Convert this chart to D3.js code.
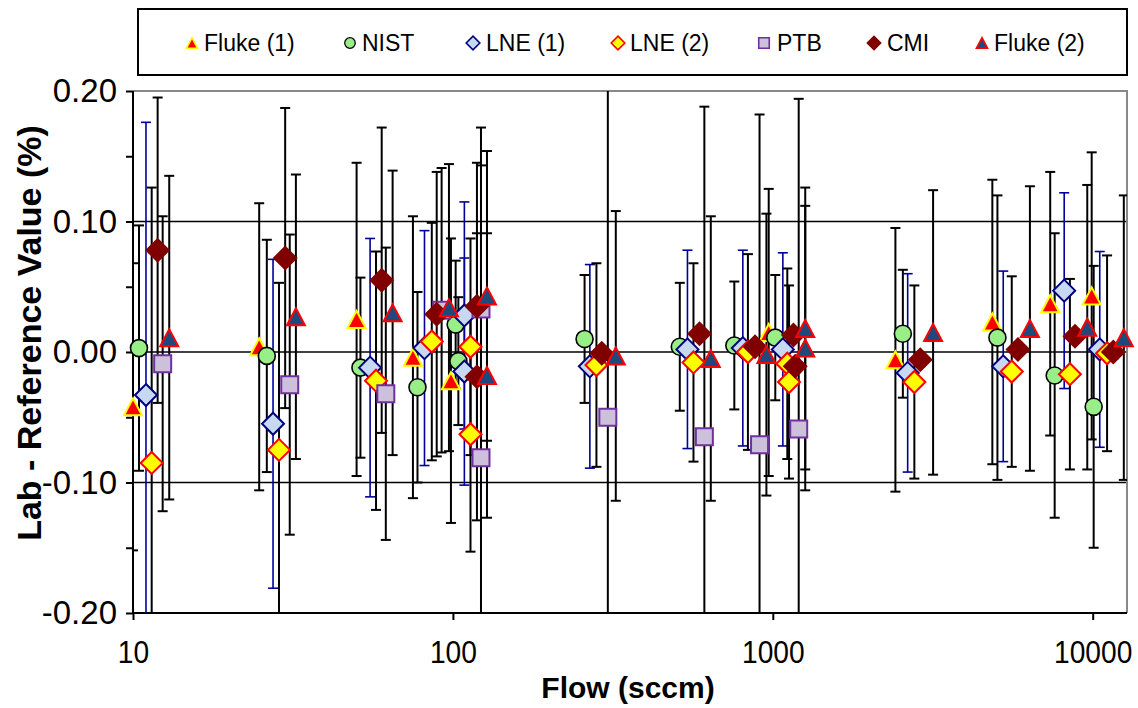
<!DOCTYPE html>
<html>
<head>
<meta charset="utf-8">
<script src="https://cdn.jsdelivr.net/npm/d3@7"></script>
<style>
  body { margin: 0; background: #fff; }
  svg { font-family: "Liberation Sans", Arial, sans-serif; }
</style>
</head>
<body>
<div id="grafico"></div>
<script>
// 1) dados -----------------------------------------------------------
const fluke1Fluxo = [10, 24.8, 50, 75, 98.6, 971, 2417, 4856, 7365, 9927];
const fluke1Desvio = [-0.042, 0.004, 0.025, -0.004, -0.022, 0.015, -0.006, 0.023, 0.037, 0.043];
const fluke1Incerteza = [0.110, 0.110, 0.120, 0.108, 0.109, 0.110, 0.101, 0.109, 0.101, 0.110];

const nistFluxo = [10.44, 26.2, 51.4, 77.5, 102, 104, 258, 512, 758, 1018, 2550, 5037, 7605, 10070];
const nistDesvio = [0.003, -0.003, -0.012, -0.027, 0.021, -0.007, 0.010, 0.004, 0.005, 0.011, 0.014, 0.011, -0.018, -0.042];
const nistIncerteza = [0.094, 0.089, 0.069, 0.073, 0.049, 0.049, 0.049, 0.049, 0.049, 0.048, 0.049, 0.109, 0.109, 0.108];

const lne1Fluxo = [10.98, 27.4, 55.1, 81.5, 108.6, 108.6, 268, 541, 806, 1075, 2640, 5252, 8145, 10520];
const lne1Desvio = [-0.033, -0.055, -0.012, 0.003, 0.028, -0.015, -0.011, 0.002, 0.003, 0.002, -0.016, -0.011, 0.047, 0.002];
const lne1Incerteza = [0.209, 0.126, 0.099, 0.090, 0.087, 0.087, 0.078, 0.076, 0.075, 0.074, 0.076, 0.073, 0.075, 0.075];

const lne2Fluxo = [11.44, 28.6, 57.5, 85.9, 113.5, 113.5, 281, 565, 836, 1110, 1124, 2770, 5584, 8486, 11090];
const lne2Desvio = [-0.085, -0.075, -0.022, 0.008, 0.004, -0.063, -0.010, -0.008, 0.000, -0.009, -0.023, -0.023, -0.015, -0.017, -0.001];
const lne2Incerteza = [0.211, 0.128, 0.099, 0.091, 0.083, 0.090, 0.078, 0.076, 0.075, 0.073, 0.074, 0.074, 0.073, 0.073, 0.075];

const ptbFluxo = [12.38, 30.9, 61.7, 92.2, 122.4, 122.4, 305, 611, 909, 1205];
const ptbDesvio = [-0.009, -0.025, -0.032, 0.032, 0.033, -0.081, -0.050, -0.065, -0.071, -0.059];
const ptbIncerteza = [0.113, 0.115, 0.112, 0.109, 0.110, 0.253, 0.260, 0.253, 0.253, 0.253];

const cmiFluxo = [11.94, 29.9, 59.9, 89.0, 118.9, 118.9, 292, 590, 880, 1160, 1175, 2890, 5838, 8805, 11600];
const cmiDesvio = [0.078, 0.072, 0.055, 0.029, 0.035, -0.019, -0.001, 0.014, 0.004, 0.013, -0.011, -0.006, 0.002, 0.012, 0.000];
const cmiIncerteza = [0.117, 0.115, 0.117, 0.109, 0.110, 0.110, 0.005, 0.005, 0.005, 0.005, 0.005, 0.005, 0.005, 0.005, 0.005];

const fluke2Fluxo = [12.98, 32.3, 64.8, 97.2, 127.8, 127.8, 323, 640, 955, 1263, 1263, 3170, 6364, 9616, 12510];
const fluke2Desvio = [0.011, 0.027, 0.030, 0.034, 0.043, -0.018, -0.003, -0.005, -0.002, 0.018, 0.003, 0.015, 0.018, 0.019, 0.011];
const fluke2Incerteza = [0.124, 0.109, 0.109, 0.110, 0.111, 0.109, 0.111, 0.109, 0.108, 0.108, 0.109, 0.109, 0.109, 0.109, 0.109];

const ticksY = [-0.2, -0.15, -0.1, -0.05, 0, 0.05, 0.1, 0.15, 0.2];
const rotulosY = [-0.2, -0.1, 0, 0.1, 0.2];
const ticksX = [10, 100, 1000, 10000];
const gradeY = [-0.1, 0, 0.1];

// 2) medidas padronizadas ---------------------------------------------
const margem = { superior: 91, inferior: 95, direita: 11, esquerda: 133 };
const larguraTotal = 1138, alturaTotal = 708;
const largura = larguraTotal - margem.esquerda - margem.direita;
const altura = alturaTotal - margem.superior - margem.inferior;

// 3) series --------------------------------------------------------------
const series = [
  { nome: "Fluke (1)", fluxo: fluke1Fluxo, desvio: fluke1Desvio, inc: fluke1Incerteza, forma: "triangulo", fill: "#FF0000", stroke: "#FFFF00", sw: 2, barra: "#000", bw: 2, lx: 192, tx: 204 },
  { nome: "NIST", fluxo: nistFluxo, desvio: nistDesvio, inc: nistIncerteza, forma: "circulo", fill: "#99EE88", stroke: "#000", sw: 1.6, barra: "#000", bw: 2, lx: 350, tx: 362 },
  { nome: "LNE (1)", fluxo: lne1Fluxo, desvio: lne1Desvio, inc: lne1Incerteza, forma: "losango", fill: "#C6D9F1", stroke: "#000080", sw: 2, barra: "#000099", bw: 1.6, lx: 473, tx: 486 },
  { nome: "LNE (2)", fluxo: lne2Fluxo, desvio: lne2Desvio, inc: lne2Incerteza, forma: "losango", fill: "#FFFF00", stroke: "#FF0000", sw: 2, barra: "#000", bw: 2, lx: 618, tx: 630 },
  { nome: "PTB", fluxo: ptbFluxo, desvio: ptbDesvio, inc: ptbIncerteza, forma: "quadrado", fill: "#CCC0DA", stroke: "#7030A0", sw: 2, barra: "#000", bw: 2, lx: 764, tx: 777 },
  { nome: "CMI", fluxo: cmiFluxo, desvio: cmiDesvio, inc: cmiIncerteza, forma: "losangoGrande", fill: "#800000", stroke: "none", sw: 0, barra: "#000", bw: 2, lx: 874, tx: 887 },
  { nome: "Fluke (2)", fluxo: fluke2Fluxo, desvio: fluke2Desvio, inc: fluke2Incerteza, forma: "triangulo", fill: "#1F497D", stroke: "#FF0000", sw: 2, barra: "#000", bw: 2, lx: 982, tx: 994 }
];

function caminho(forma, s) {
  if (forma === "triangulo") {
    const w = 18 * s, h = 17 * s;
    return `M0,${-h / 2}L${w / 2},${h / 2}L${-w / 2},${h / 2}Z`;
  }
  if (forma === "circulo") return d3.symbol(d3.symbolCircle, Math.PI * (8.5 * s) ** 2)();
  if (forma === "losango") { const a = 11 * s; return `M0,${-a}L${a},0L0,${a}L${-a},0Z`; }
  if (forma === "losangoGrande") { const a = 12.5 * s; return `M0,${-a}L${a},0L0,${a}L${-a},0Z`; }
  const q = 8.5 * s;
  return `M${-q},${-q}H${q}V${q}H${-q}Z`;
}

// 4) svg ------------------------------------------------------------------
const raiz = d3.select("#grafico")
  .append("svg")
    .attr("width", larguraTotal)
    .attr("height", alturaTotal);

const svg = raiz.append("g")
    .attr("transform", `translate(${margem.esquerda},${margem.superior})`);

svg.append("clipPath").attr("id", "area")
  .append("rect").attr("width", largura).attr("height", altura);

// 5) escalas --------------------------------------------------------------
const x = d3.scaleLog().domain([10, 12800]).range([0, largura]);
const y = d3.scaleLinear().domain([-0.2, 0.2]).range([altura, 0]);

// 6) grade e bordas -------------------------------------------------------
svg.append("g").selectAll("line")
  .data(gradeY)
  .join("line")
    .attr("x1", 0).attr("x2", largura)
    .attr("y1", d => y(d)).attr("y2", d => y(d))
    .attr("stroke", "#000").attr("stroke-width", 1.5);

svg.append("path")
  .attr("d", `M0,${y(0.2)}H${largura}V${altura}`)
  .attr("fill", "none").attr("stroke", "#888").attr("stroke-width", 2);

// 7) eixos ---------------------------------------------------------------
const eixoY = svg.append("g")
  .call(d3.axisLeft(y).tickValues(ticksY).tickSize(7).tickPadding(9)
    .tickFormat(d => rotulosY.some(r => Math.abs(r - d) < 1e-9) ? d.toFixed(2) : ""));
eixoY.select(".domain").attr("stroke-width", 2).attr("d", `M0,0V${altura}`);
eixoY.selectAll(".tick line").attr("stroke-width", 2);
eixoY.selectAll("text").attr("font-size", "33px").attr("fill", "#000")
  .attr("font-family", "Liberation Sans, Arial, sans-serif");

const eixoX = svg.append("g")
  .attr("transform", `translate(0,${altura})`)
  .call(d3.axisBottom(x).tickValues(ticksX).tickSize(7).tickPadding(20).tickFormat(d3.format("d")));
eixoX.select(".domain").attr("stroke-width", 2).attr("d", `M0,0H${largura}`);
eixoX.selectAll(".tick line").attr("stroke-width", 2);
eixoX.selectAll("text").attr("font-size", "32px").attr("fill", "#000")
  .attr("font-family", "Liberation Sans, Arial, sans-serif")
  .attr("transform", "scale(0.88,1)");

// 8) barras de erro --------------------------------------------------------
const barras = svg.append("g").attr("clip-path", "url(#area)");
series.forEach(s => {
  const pts = s.fluxo.map((f, i) => ({ f, v: s.desvio[i], u: s.inc[i] }));
  const g = barras.append("g").attr("stroke", s.barra).attr("stroke-width", s.bw);
  g.selectAll(".haste").data(pts).join("line")
    .attr("x1", d => x(d.f)).attr("x2", d => x(d.f))
    .attr("y1", d => y(d.v + d.u)).attr("y2", d => y(d.v - d.u));
  g.selectAll(".topo").data(pts).join("line")
    .attr("x1", d => x(d.f) - 5).attr("x2", d => x(d.f) + 5)
    .attr("y1", d => y(d.v + d.u)).attr("y2", d => y(d.v + d.u));
  g.selectAll(".base").data(pts).join("line")
    .attr("x1", d => x(d.f) - 5).attr("x2", d => x(d.f) + 5)
    .attr("y1", d => y(d.v - d.u)).attr("y2", d => y(d.v - d.u));
});

// 9) marcadores -----------------------------------------------------------
series.forEach(s => {
  svg.append("g").selectAll("path")
    .data(s.fluxo.map((f, i) => ({ f, v: s.desvio[i] })))
    .join("path")
      .attr("d", caminho(s.forma, 1))
      .attr("transform", d => `translate(${x(d.f)},${y(d.v)})`)
      .attr("fill", s.fill)
      .attr("stroke", s.stroke)
      .attr("stroke-width", s.sw);
});

// 10) titulos dos eixos ------------------------------------------------------
raiz.append("text")
  .attr("transform", "translate(41,333) rotate(-90)")
  .attr("text-anchor", "middle")
  .attr("font-size", "34px").attr("font-weight", "bold")
  .text("Lab - Reference Value (%)");

raiz.append("text")
  .attr("x", 628).attr("y", 698)
  .attr("text-anchor", "middle")
  .attr("font-size", "30px").attr("font-weight", "bold")
  .text("Flow (sccm)");

// 11) legenda --------------------------------------------------------------
const legenda = raiz.append("g");
legenda.append("rect")
  .attr("x", 138).attr("y", 9).attr("width", 989).attr("height", 66)
  .attr("fill", "#fff").attr("stroke", "#000").attr("stroke-width", 2);

const itens = legenda.selectAll(".item").data(series).join("g").attr("class", "item");
itens.append("path")
  .attr("d", d => caminho(d.forma, 0.62))
  .attr("transform", d => `translate(${d.lx},43)`)
  .attr("fill", d => d.fill)
  .attr("stroke", d => d.stroke)
  .attr("stroke-width", d => d.sw * 0.8);
itens.append("text")
  .attr("x", d => d.tx).attr("y", 51)
  .attr("font-size", "23px")
  .text(d => d.nome);
</script>
</body>
</html>
